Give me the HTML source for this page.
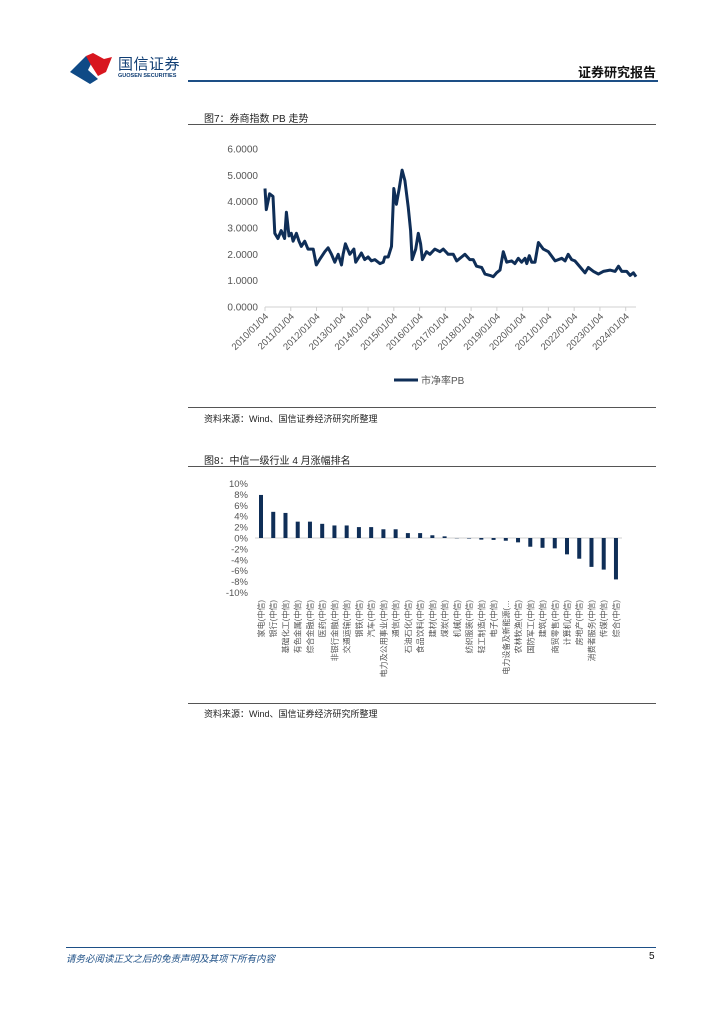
<!DOCTYPE html>
<html><head><meta charset="utf-8">
<style>
body{margin:0;background:#fff;width:724px;height:1024px;position:relative;overflow:hidden;font-family:"Liberation Sans","Noto Sans CJK SC",sans-serif;}
.abs{position:absolute;}
.t{font-size:10px;color:#222;}
.hl{position:absolute;left:188px;width:468px;height:1px;background:#555;}
</style></head><body>
<svg class="abs" style="left:70px;top:52px" width="44" height="32">
<polygon points="0,20 16,4 22,10 18,18 28,27 20,32" fill="#0f4a86"/>
<polygon points="16,4 23,1 34,7 42,5 36,20 28,24 21,13" fill="#d8161f"/>
</svg>
<div class="abs" style="left:118px;top:53px;font-size:15px;color:#0f3d73;letter-spacing:0.5px">国信证券</div>
<div class="abs" style="left:118px;top:73px;font-size:5.5px;color:#0f3d73;font-weight:bold">GUOSEN SECURITIES</div>
<div class="abs" style="right:68px;top:62px;font-size:13px;font-weight:bold;color:#111">证券研究报告</div>
<div class="abs" style="left:188px;top:80px;width:470px;height:2px;background:#1d4f86"></div>

<div class="abs t" style="left:204px;top:110px">图7：券商指数 PB 走势</div>
<div class="hl" style="top:124px"></div>
<svg class="abs" style="left:0;top:0" width="724" height="400" id="pb"></svg>
<div class="hl" style="top:407px"></div>
<div class="abs t" style="left:204px;top:412px;font-size:9px">资料来源：Wind、国信证券经济研究所整理</div>

<div class="abs t" style="left:204px;top:452px">图8：中信一级行业 4 月涨幅排名</div>
<div class="hl" style="top:466px"></div>
<svg class="abs" style="left:0;top:470px" width="724" height="230" id="bars"></svg>
<div class="hl" style="top:703px"></div>
<div class="abs t" style="left:204px;top:707px;font-size:9px">资料来源：Wind、国信证券经济研究所整理</div>

<div class="abs" style="left:66px;top:947px;width:590px;height:1px;background:#1d4f86"></div>
<div class="abs" style="left:66px;top:951px;font-size:9.5px;font-style:italic;color:#1d4f86">请务必阅读正文之后的免责声明及其项下所有内容</div>
<div class="abs" style="left:649px;top:951px;font-size:10px;color:#111">5</div>

<script>
const NS="http://www.w3.org/2000/svg";
function mk(p,tag,at,txt){const e=document.createElementNS(NS,tag);for(const k in at)e.setAttribute(k,at[k]);if(txt!==undefined)e.textContent=txt;p.appendChild(e);return e;}

// ---- PB chart data ----
const pbYears=[0,0.05,0.18,0.31,0.38,0.5,0.63,0.76,0.83,0.93,1.02,1.09,1.22,1.32,1.41,1.54,1.67,1.87,1.99,2.12,2.32,2.45,2.58,2.71,2.84,2.97,3.03,3.12,3.29,3.45,3.52,3.65,3.74,3.87,4.0,4.13,4.26,4.46,4.59,4.65,4.78,4.91,5.0,5.1,5.21,5.32,5.43,5.56,5.65,5.71,5.85,5.95,6.04,6.11,6.27,6.4,6.59,6.79,6.92,7.11,7.31,7.44,7.63,7.76,7.95,8.08,8.21,8.41,8.54,8.73,8.86,8.99,9.12,9.25,9.38,9.57,9.7,9.83,9.96,10.09,10.16,10.26,10.35,10.48,10.61,10.8,11.0,11.26,11.52,11.65,11.77,11.9,12.03,12.16,12.42,12.55,12.75,12.94,13.13,13.39,13.59,13.72,13.85,14.04,14.17,14.3,14.4];
const pbValues=[4.5,3.7,4.3,4.2,2.8,2.6,2.9,2.6,3.6,2.7,2.8,2.5,2.8,2.5,2.3,2.5,2.2,2.2,1.6,1.8,2.1,2.25,2.0,1.7,2.0,1.6,2.0,2.4,2.0,2.2,1.7,1.9,2.05,1.8,1.9,1.75,1.8,1.65,1.7,1.9,1.9,2.3,4.5,3.9,4.5,5.2,4.8,3.8,2.9,1.8,2.2,2.8,2.4,1.8,2.1,2.0,2.2,2.1,2.2,2.0,2.0,1.75,1.9,2.0,1.8,1.8,1.55,1.5,1.25,1.2,1.15,1.3,1.4,2.1,1.7,1.75,1.65,1.85,1.7,1.85,1.65,1.95,1.7,1.7,2.45,2.2,2.1,1.75,1.85,1.75,2.0,1.8,1.75,1.6,1.3,1.5,1.35,1.25,1.35,1.4,1.35,1.55,1.35,1.35,1.2,1.3,1.15];
const pbYTicks=[0,1,2,3,4,5,6];
const pbXTicks=["2010/01/04","2011/01/04","2012/01/04","2013/01/04","2014/01/04","2015/01/04","2016/01/04","2017/01/04","2018/01/04","2019/01/04","2020/01/04","2021/01/04","2022/01/04","2023/01/04","2024/01/04"];

(function(){
 const s=document.getElementById('pb');
 const X0=265,X1=636,Y0=307,Y6=149;
 const xs=t=>X0+t*(X1-X0)/14.4, ys=v=>Y0-v*(Y0-Y6)/6;
 pbYTicks.forEach(v=>{const t=mk(s,'text',{x:258,y:ys(v)+3.5,'text-anchor':'end','font-size':10,fill:'#555'},v.toFixed(4));
 
 });
 const ax=mk(s,'line',{x1:X0,x2:X1,y1:Y0,y2:Y0,stroke:'#d0d0d0'});
 
 
 pbXTicks.forEach((l,i)=>{const x=xs(i);
  mk(s,'line',{x1:x,x2:x,y1:Y0,y2:Y0+4,stroke:'#d0d0d0'});
  const t=mk(s,'text',{x:x+4,y:Y0+10,'text-anchor':'end','font-size':9.5,fill:'#555',transform:`rotate(-45 ${x+4} ${Y0+10})`},l);
  
  });
 const d=pbYears.map((t,i)=>(i?'L':'M')+xs(t).toFixed(1)+','+ys(pbValues[i]).toFixed(1)).join('');
 const p=mk(s,'path',{d:d,fill:'none',stroke:'#0f2e57','stroke-width':3,'stroke-linejoin':'round'});
 
 
 const lg=mk(s,'line',{x1:394,x2:418,y1:380,y2:380,stroke:'#0f2e57','stroke-width':3});
 
 
 const lt=mk(s,'text',{x:421,y:384,'font-size':10,fill:'#555'},'市净率PB');
 
 
})();

// ---- Bar chart data ----
const industries=["家电(中信)","银行(中信)","基础化工(中信)","有色金属(中信)","综合金融(中信)","医药(中信)","非银行金融(中信)","交通运输(中信)","钢铁(中信)","汽车(中信)","电力及公用事业(中信)","通信(中信)","石油石化(中信)","食品饮料(中信)","建材(中信)","煤炭(中信)","机械(中信)","纺织服装(中信)","轻工制造(中信)","电子(中信)","电力设备及新能源(…","农林牧渔(中信)","国防军工(中信)","建筑(中信)","商贸零售(中信)","计算机(中信)","房地产(中信)","消费者服务(中信)","传媒(中信)","综合(中信)"];
const changes=[7.9,4.8,4.6,3.0,3.0,2.6,2.3,2.3,2.0,2.0,1.6,1.6,0.9,0.9,0.5,0.3,-0.05,-0.1,-0.3,-0.35,-0.5,-0.8,-1.6,-1.8,-1.9,-3.0,-3.8,-5.3,-5.8,-7.6];
const barYTicks=[10,8,6,4,2,0,-2,-4,-6,-8,-10];

(function(){
 const s=document.getElementById('bars');
 const yz=68,per=5.45,xa=261,step=12.24;
 const ys=v=>yz-v*per, xs=i=>xa+i*step;
 barYTicks.forEach(v=>{const t=mk(s,'text',{x:248,y:ys(v)+3.5,'text-anchor':'end','font-size':9.5,fill:'#555'},v+'%');
 
 });
 const ax=mk(s,'line',{x1:255,x2:622,y1:yz,y2:yz,stroke:'#d0d0d0'});
 
 
 changes.forEach((v,i)=>{const x=xs(i);
  const r=mk(s,'rect',{x:x-2,y:Math.min(ys(v),yz),width:4,height:Math.abs(ys(v)-yz),fill:'#0f2e57'});
  
  
  const t=mk(s,'text',{x:x+3,y:130,'text-anchor':'end','font-size':8,fill:'#555',transform:`rotate(-90 ${x+3} 130)`},industries[i]);
  
  });
})();
</script>
</body></html>
